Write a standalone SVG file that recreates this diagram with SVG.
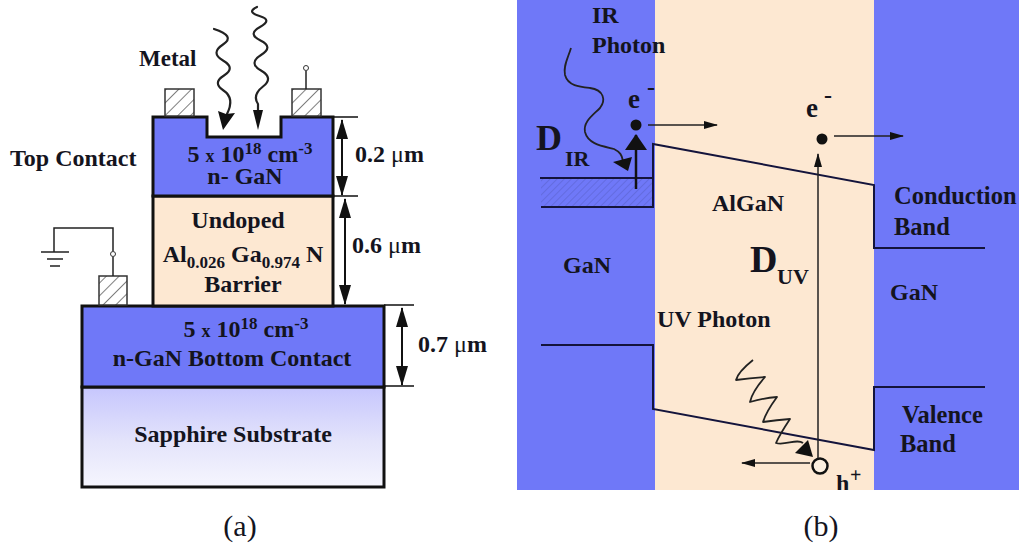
<svg xmlns="http://www.w3.org/2000/svg" width="1019" height="555" viewBox="0 0 1019 555">
<style>
text{font-family:"Liberation Serif","Times New Roman",serif;font-weight:bold;fill:#14141e;font-size:24px}
.m{text-anchor:middle}
.u{font-weight:normal}
.s{font-size:17px}
.x{font-size:18px}
.c{font-size:24.500px}
.e{font-size:27px}
.box{stroke:#111;stroke-width:3;stroke-linejoin:miter}
.blue{fill:#6f78f8}
.beige{fill:#fde8d2}
.ln{fill:none;stroke:#111;stroke-width:1.5}
.dim{fill:none;stroke:#111;stroke-width:2}
.band{fill:none;stroke:#14143c;stroke-width:2}
.thin{fill:none;stroke:#222;stroke-width:1.5}
.pad{fill:url(#hatch);stroke:#333;stroke-width:1.5}
.wave{fill:none;stroke:#222;stroke-width:2.200;stroke-linejoin:round;stroke-linecap:round}
.wave2{fill:none;stroke:#222;stroke-width:1.800;stroke-linejoin:round}
.head{fill:#111}
</style>
<defs>
<pattern id="hatch" width="9" height="9" patternUnits="userSpaceOnUse" patternTransform="rotate(45)"><rect width="9" height="9" fill="#fff"/><line x1="0" y1="0" x2="0" y2="9" stroke="#555" stroke-width="1.500"/></pattern>
<pattern id="hatch2" width="5" height="5" patternUnits="userSpaceOnUse" patternTransform="rotate(45)"><line x1="0" y1="0" x2="0" y2="5" stroke="#5860c8" stroke-width="1"/></pattern>
<linearGradient id="sap" x1="0" y1="0" x2="0" y2="1"><stop offset="0" stop-color="#c6c6fd"/><stop offset="0.55" stop-color="#e4e4fb"/><stop offset="1" stop-color="#f6f6fe"/></linearGradient>
<clipPath id="panel"><rect x="517" y="0" width="502" height="490"/></clipPath>
<marker id="dim" markerWidth="20" markerHeight="12" refX="19" refY="6" orient="auto" markerUnits="userSpaceOnUse" viewBox="0 0 20 12"><path d="M0,0L20,6L0,12Z" fill="#111"/></marker>
<marker id="sm" markerWidth="14" markerHeight="8" refX="13" refY="4" orient="auto" markerUnits="userSpaceOnUse" viewBox="0 0 14 8"><path d="M0,0L14,4L0,8Z" fill="#111"/></marker>
<marker id="big" markerWidth="16" markerHeight="22" refX="15" refY="11" orient="auto" markerUnits="userSpaceOnUse" viewBox="0 0 16 22"><path d="M0,0L16,11L0,22Z" fill="#111"/></marker>
</defs>
<rect width="1019" height="555" fill="#fff"/>

<g id="substrate"><rect class="box" x="82" y="387" width="302" height="100" fill="url(#sap)"/><text class="m" x="233" y="442">Sapphire Substrate</text></g>
<g id="bottom-contact"><rect class="box blue" x="82" y="306" width="302" height="81"/>
<text class="m" x="246" y="337">5 <tspan class="x">x</tspan> 10<tspan class="s" dy="-8">18</tspan><tspan dy="8"> cm</tspan><tspan class="s" dy="-8">-3</tspan></text>
<text class="m" x="232" y="366">n-GaN Bottom Contact</text></g>
<g id="barrier"><rect class="box beige" x="153" y="196" width="180" height="110"/>
<text class="m" x="238" y="228">Undoped</text>
<text class="m" x="243" y="262">Al<tspan class="s" dy="6">0.026</tspan><tspan dy="-6"> Ga</tspan><tspan class="s" dy="6">0.974</tspan><tspan dy="-6"> N</tspan></text>
<text class="m" x="243" y="292">Barrier</text></g>
<g id="top-contact"><path class="box blue" d="M153,196V117H207V137H281V117H333V196Z"/>
<text class="m" x="250" y="162">5 <tspan class="x">x</tspan> 10<tspan class="s" dy="-8">18</tspan><tspan dy="8"> cm</tspan><tspan class="s" dy="-8">-3</tspan></text>
<text class="m" x="245" y="184">n- GaN</text></g>
<g id="metal-left"><rect class="pad" x="165" y="89" width="29" height="27"/></g>
<g id="metal-right"><rect class="pad" x="292" y="89" width="29" height="27"/><line class="thin" x1="306" y1="89" x2="306" y2="71"/><circle cx="306" cy="68" r="2.500" fill="#fff" stroke="#333"/></g>
<g id="metal-bottom"><rect class="pad" x="99" y="276" width="28" height="29"/><line class="thin" x1="113" y1="276" x2="113" y2="257"/><circle cx="113" cy="254" r="2.500" fill="#fff" stroke="#333"/><path class="thin" d="M113,251V228H54V252M41,252H69M47,259H63M50,266H60"/></g>
<g id="labels-a">
<text x="139" y="66" style="font-size:23px">Metal</text>
<text x="10" y="166">Top Contact</text>
<text x="355" y="162">0.2 <tspan class="u">μ</tspan>m</text>
<text x="352" y="253">0.6 <tspan class="u">μ</tspan>m</text>
<text x="418" y="352">0.7 <tspan class="u">μ</tspan>m</text>
<text class="m" x="240" y="536" style="font-size:30px;font-weight:normal">(a)</text>
</g>

<g id="panel-b">
<rect class="blue" x="517" y="0" width="138" height="490"/>
<rect class="beige" x="655" y="0" width="219" height="490"/>
<rect class="blue" x="874" y="0" width="145" height="490"/>
<rect x="541" y="178" width="112" height="29" fill="url(#hatch2)"/>
</g>
<g id="labels-b">
<text x="592" y="23">IR</text>
<text x="592" y="53">Photon</text>
<text class="e" x="628" y="108">e</text><text x="647" y="95">-</text>
<text class="e" x="806" y="117">e</text><text x="824" y="103">-</text>
<text x="536" y="150" style="font-size:36px">D</text><text x="565" y="166" style="font-size:22px">IR</text>
<text x="750" y="272" style="font-size:38px">D</text><text x="777" y="284" style="font-size:22px">UV</text>
<text x="712" y="211">AlGaN</text>
<text class="c" x="894" y="204">Conduction</text>
<text class="c" x="894" y="235">Band</text>
<text x="563" y="273">GaN</text>
<text x="890" y="300">GaN</text>
<text x="657" y="327">UV Photon</text>
<text class="c" x="902" y="423">Valence</text>
<text class="c" x="900" y="452">Band</text>
<g clip-path="url(#panel)"><text x="836" y="491">h</text></g><text x="850" y="482" style="font-size:20px">+</text>
<text class="m" x="821" y="536" style="font-size:30px;font-weight:normal">(b)</text>
</g>
<g id="particles">
<circle cx="636" cy="125" r="5.500" fill="#111"/>
<circle cx="822" cy="139" r="5.500" fill="#111"/>
<circle cx="820" cy="466" r="7.500" fill="#fdf0e0" stroke="#111" stroke-width="2.500"/>
</g>

<g id="connectors">
<path class="ln" d="M333,117H358M333,196H358M384,305H414M384,386H414"/>
<line class="dim" x1="342" y1="120" x2="342" y2="195" marker-end="url(#dim)"/>
<line class="dim" x1="342" y1="195" x2="342" y2="120" marker-end="url(#dim)"/>
<line class="dim" x1="345" y1="199" x2="345" y2="304" marker-end="url(#dim)"/>
<line class="dim" x1="345" y1="304" x2="345" y2="199" marker-end="url(#dim)"/>
<line class="dim" x1="402" y1="308" x2="402" y2="385" marker-end="url(#dim)"/>
<line class="dim" x1="402" y1="385" x2="402" y2="308" marker-end="url(#dim)"/>
<path class="wave" d="M214,29Q236,36 223,44.500Q210,53 223,60.500Q236,68 224,75.500Q212,83 223.500,90.500Q235,98 227,114"/>
<path class="head" d="M223,130L218,111L226,114L235,113Z"/>
<path class="wave" d="M257,7Q246,12 259.500,16Q273,20 260,27Q247,34 260.500,40.500Q274,47 261,55Q248,63 261,70.500Q274,78 263,86.500Q252,95 258,104V112"/>
<path class="head" d="M258,130L253,110H263Z"/>
<path class="band" d="M540,178H653"/>
<path class="band" d="M541,207H653V144L874,185V248H985"/>
<path class="band" d="M541,345H653V409L874,450V387H985"/>
<line class="thin" x1="648" y1="125" x2="717" y2="125" marker-end="url(#sm)"/>
<line class="thin" x1="834" y1="136" x2="903" y2="136" marker-end="url(#sm)"/>
<line class="thin" x1="810" y1="463" x2="742" y2="463" marker-end="url(#sm)"/>
<line class="thin" x1="818" y1="458" x2="818" y2="154" marker-end="url(#sm)"/>
<line x1="636" y1="189" x2="636" y2="135" stroke="#111" stroke-width="2.500" marker-end="url(#big)"/>
<path class="wave2" d="M571,48C568,58 563,66 565,75C568,86 580,87 590,88C604,90 606,100 600,108C592,116 583,122 585,132C588,144 602,146 614,149C620,152 622,155 623,161"/>
<path class="head" d="M628,171L613,162L632,157Z"/>
<path class="wave2" d="M753,360Q738,372 736,380Q750,378 765,377Q752,392 750,402Q764,398 777,397Q766,412 763,422Q777,420 790,419Q780,434 776,443C785,446 797,438 803,443"/>
<path class="head" d="M813,457L795,453L808,440Z"/>
</g>
</svg>
